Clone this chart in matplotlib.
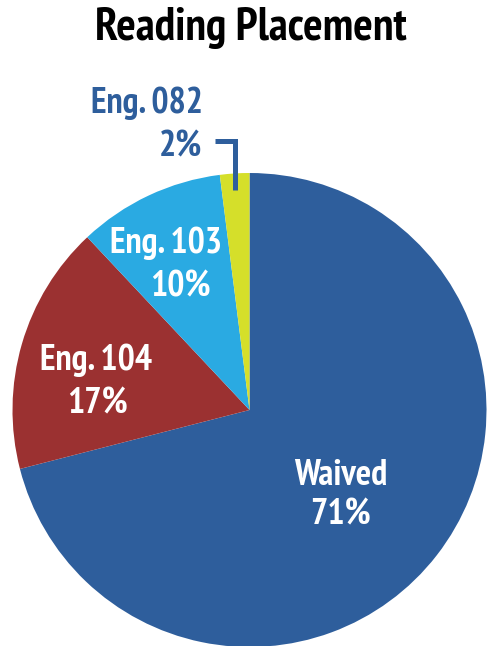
import matplotlib
matplotlib.use("Agg")
import matplotlib.pyplot as plt
from matplotlib import font_manager

# Reading placement shares, clockwise from 12 o'clock
categories = ["Waived", "Eng. 104", "Eng. 103", "Eng. 082"]
values = [71, 17, 10, 2]
colors = ["#2e5e9c", "#9b3131", "#2aaae2", "#d5df2a"]
title = "Reading Placement"

names = {f.name for f in font_manager.fontManager.ttflist}
preferred = ["PT Sans Narrow", "Open Sans Condensed", "Roboto Condensed",
             "Fira Sans Condensed", "Asap Condensed", "Encode Sans Condensed",
             "Liberation Sans Narrow"]
family = [n for n in preferred if n in names][:1] + ["DejaVu Sans"]

fig = plt.figure(figsize=(4.89, 6.46), dpi=100)
fig.patch.set_facecolor("white")

W, H = 489, 646
cx, cy, r = 249.5, 410, 237
ax = fig.add_axes([(cx - r) / W, (H - cy - r) / H, 2 * r / W, 2 * r / H])
ax.pie(values, colors=colors, startangle=90, counterclock=False,
       radius=1.0, wedgeprops=dict(linewidth=0))
ax.set_xlim(-1, 1)
ax.set_ylim(-1, 1)
ax.set_aspect("equal")
ax.axis("off")

fig.text(251 / W, 1 - 40 / H, title, ha="center", va="baseline",
         fontsize=33, fontweight="bold", family=family, color="black")

lab_kw = dict(ha="center", va="baseline", fontsize=26, fontweight="bold",
              family=family, color="white", clip_on=False)

# Label anchors (name line, value line) inside the larger slices
inside = {
    "Waived": ((0.386, -0.316), (0.386, -0.485)),
    "Eng. 104": ((-0.648, 0.169), (-0.643, -0.013)),
    "Eng. 103": ((-0.352, 0.662), (-0.293, 0.477)),
}
for name, v in zip(categories, values):
    if name in inside:
        (x1, y1), (x2, y2) = inside[name]
        ax.text(x1, y1, name, **lab_kw)
        ax.text(x2, y2, f"{v}%", **lab_kw)

# Small slice labelled outside with a bracket leader
blue = "#2e5e9c"
name, v = categories[3], values[3]
out_kw = dict(lab_kw, color=blue)
ax.text(-0.432, 1.253, name, **out_kw)
ax.text(-0.20, 1.068, f"{v}%", **dict(out_kw, ha="right"))
ax.plot([-0.147, -0.061, -0.061], [1.135, 1.135, 0.93], color=blue,
        lw=3.6, solid_joinstyle="miter", solid_capstyle="butt", clip_on=False)

fig.savefig("out.png", dpi=100, facecolor="white")
